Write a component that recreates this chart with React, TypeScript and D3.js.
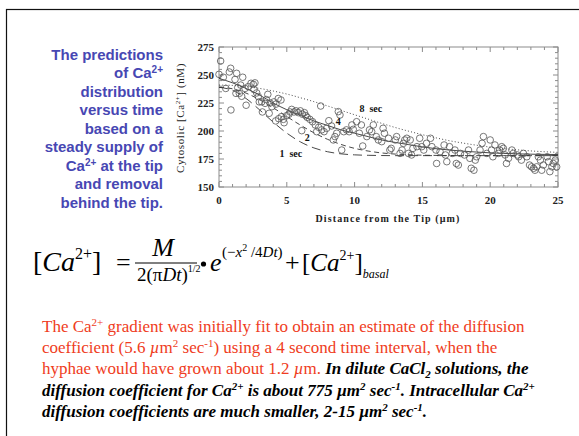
import React from "react";
import * as d3 from "d3";

// Measured cytosolic Ca2+ along the hypha (distance in µm, concentration in nM)
const distance = [
  0.12, 0, 0.32, 0.5, 0.76, 0.86, 0.88, 1.18, 1.25, 1.38, 1.5, 1.67, 1.3, 1.75, 1.6, 1.92, 2.0, 2.16,
  2.36, 2.53, 2.65, 2.58, 2.78, 2.9, 2.97, 3.15, 3.2, 3.4, 3.5, 3.6, 3.76, 3.7, 3.9, 4.05, 4.2, 4.37,
  4.57, 4.18, 4.4, 4.6, 4.75, 4.8, 4.99, 5.16, 5.24, 5.36, 5.53, 5.68, 5.85, 6.0, 6.15, 6.3, 6.1, 6.4,
  6.5, 6.7, 6.9, 7.1, 7.2, 7.35, 7.57, 7.75, 7.5, 7.94, 8.1, 8.3, 8.43, 8.55, 8.68, 8.92, 8.8, 9.05,
  9.2, 9.4, 9.6, 9.8, 9.9, 10.15, 10.35, 10.5, 10.6, 10.9, 11.1,
  11.38, 11.26, 11.6, 11.75, 12.1, 12.0, 12.2, 12.5, 12.6, 12.7, 13.0, 13.1, 13.35, 13.5, 13.6, 13.7,
  13.85, 14.1, 14.2, 13.97, 14.3, 14.6, 14.8, 14.95, 15.1, 15.3, 15.6, 15.7, 16.0, 16.05, 16.3, 16.6,
  16.7, 16.8, 17.0, 17.2, 17.4, 17.5, 17.65, 17.8, 18.1, 18.4, 18.5, 18.6, 18.8, 18.9, 19.0, 19.25,
  19.4, 19.5, 19.75, 20.0, 20.1, 20.2, 20.35, 20.6, 20.7, 20.85, 20.97, 21.1, 21.2, 21.35, 21.6, 21.7,
  22.0, 22.1, 22.3, 22.45, 22.7, 22.9, 23.05, 23.2, 23.3, 23.43, 23.55, 23.7, 23.8, 23.92, 24.2, 24.3,
  24.4, 24.55, 24.65, 24.8, 24.9,
];
const calcium = [
  262.5, 250.6, 248, 238, 252.7, 256, 218.8, 246, 233.6, 238.7, 233.6, 231, 251.5, 248, 241, 238, 223,
  239.6, 242.6, 241.7, 243, 237, 234, 230.7, 226, 226, 217, 224.7, 228, 232.7, 225, 215.8, 221.7, 226,
  224, 229, 227.7, 209, 211, 212.8, 210.4, 207.4, 213.7, 215, 217, 219.3, 217, 218, 216.4, 218, 215,
  216.4, 200.3, 213.7, 212.2, 210.4, 208.3, 205.4, 199.4, 203.3, 201, 199.4, 222.3, 202.4, 209.2,
  204.5, 192, 195, 198, 214.3, 217.3, 183, 199.4, 201, 199.4, 205.4, 201.5, 208.3, 198, 205.4, 186.6,
  195, 201,
  205.4, 199.4, 195, 192, 202.4, 190.5, 198, 193.5, 183, 184.5, 192, 195, 180, 183, 189, 192, 193.5,
  192, 178.6, 180, 184.5, 186, 193.5, 186, 183, 189, 193.5, 186, 183, 171, 181.6, 187.5, 178.6, 172.6,
  186, 180, 183, 171, 169.6, 180, 178.6, 183, 175.6, 166.7, 165, 174, 177, 183, 189, 195, 180, 192, 183,
  177, 187.5, 180, 183, 186, 184.5, 178.6, 171, 175.6, 183, 180, 178.6, 177, 174, 180, 177, 169.6, 168,
  166.7, 165, 168, 177, 174, 165, 169.6, 177, 172.6, 163.7, 168, 171, 174, 168,
];

// Model profiles after 1, 2, 4 and 8 s, sampled every micrometre
const profileX = [0, 1, 2, 3, 4, 5, 6, 7, 8, 9, 10, 11, 12, 13, 14, 15, 16, 17, 18, 19, 20, 21, 22, 23, 24, 25];
const profile1s = [239, 236.3, 229, 218.8, 207.9, 198.1, 190.3, 184.9, 181.5, 179.6, 178.7, 178.3, 178.1, 178, 178, 178, 178, 178, 178, 178, 178, 178, 178, 178, 178, 178];
const profile2s = [239, 237.7, 233.8, 227.9, 220.7, 212.9, 205.3, 198.4, 192.6, 188, 184.5, 182.1, 180.4, 179.4, 178.8, 178.4, 178.2, 178, 178, 178, 178, 178, 178, 178, 178, 178];
const profile4s = [247, 243, 238, 232, 225, 219, 214, 209, 205, 201, 198, 195, 192, 189.8, 187.8, 185.8, 184.2, 183, 182, 181.2, 180.5, 180, 179.6, 179.3, 179.1, 179];
const profile8s = [241, 240.7, 239.6, 238, 235.7, 233, 229.7, 226.2, 222.4, 218.4, 214.5, 210.6, 206.8, 203.1, 199.8, 196.7, 193.9, 191.3, 189.2, 187.3, 185.6, 184.3, 183.2, 182.2, 181.5, 180.9];

const xTickLabels = [0, 5, 10, 15, 20, 25];
const yTickLabels = [150, 175, 200, 225, 250, 275];

const profiles = [
  { values: profile1s, dash: "9,5", label: "1 sec", lx: 5.3, ly: 177 },
  { values: profile2s, dash: "5,3.5", label: "2", lx: 6.5, ly: 191 },
  { values: profile4s, dash: "", label: "4", lx: 8.8, ly: 205.5 },
  { values: profile8s, dash: "1,2.2", label: "8 sec", lx: 11.2, ly: 217 },
];

const BLUE = "#4747b3";
const RED = "#ef3c22";
const SERIF = "'Liberation Serif', 'Times New Roman', serif";
const SANS = "'Liberation Sans', Arial, Helvetica, sans-serif";

function Sup({ children, size, up }: { children: React.ReactNode; size: number; up: number }) {
  return (
    <tspan fontSize={size} dy={-up}>
      {children}
    </tspan>
  );
}

export default function App() {
  const x = d3.scaleLinear().domain([0, 25]).range([219, 558]);
  const y = d3.scaleLinear().domain([150, 275]).range([187, 47]);
  const [x0, x1] = x.range();
  const [y0, y1] = y.range();

  const line = (vals: number[]) =>
    d3
      .line<number>()
      .x((_, i) => x(profileX[i]))
      .y((d) => y(d))
      .curve(d3.curveMonotoneX)(vals) || "";

  const xMinor = x.ticks(25);
  const yMinor = d3.range(150, 276, 5);
  const frame = "#8c8c8c";

  const blueLines: React.ReactNode[] = [
    "The predictions",
    <>of Ca<Sup size={10} up={5}>2+</Sup></>,
    "distribution",
    "versus time",
    "based on a",
    "steady supply of",
    <>Ca<Sup size={10} up={5}>2+</Sup><tspan dy={5}> at the tip</tspan></>,
    "and removal",
    "behind the tip.",
  ];

  return (
    <svg
      width={579}
      height={436}
      style={{ position: "absolute", left: 0, top: 0, background: "#fff" }}
    >
      <rect x={0} y={0} width={579} height={436} fill="#fff" />
      <rect x={6.5} y={9.5} width={620} height={500} fill="none" stroke="#111" strokeWidth={1.2} />

      {/* side caption */}
      <g fontFamily={SANS} fontWeight="bold" fontSize={15} fill={BLUE} textAnchor="end">
        {blueLines.map((l, i) => (
          <text key={i} x={163} y={59.5 + i * 18.5}>
            {l}
          </text>
        ))}
      </g>

      {/* plot frame and ticks */}
      <g stroke={frame} strokeWidth={1} fill="none">
        <rect x={x0} y={y1} width={x1 - x0} height={y0 - y1} />
        {xMinor.map((t) => {
          const len = t % 5 === 0 ? 5 : 3;
          return (
            <g key={"xt" + t}>
              <line x1={x(t)} x2={x(t)} y1={y0} y2={y0 - len} />
              <line x1={x(t)} x2={x(t)} y1={y1} y2={y1 + len} />
            </g>
          );
        })}
        {yMinor.map((t) => {
          const len = t % 25 === 0 ? 5 : 3;
          return (
            <g key={"yt" + t}>
              <line x1={x0} x2={x0 + len} y1={y(t)} y2={y(t)} />
              <line x1={x1} x2={x1 - len} y1={y(t)} y2={y(t)} />
            </g>
          );
        })}
      </g>

      <g fontFamily={SERIF} fontSize={11} fontWeight="bold" fill="#222">
        {xTickLabels.map((t) => (
          <text key={"xl" + t} x={x(t)} y={204} textAnchor="middle">
            {t}
          </text>
        ))}
        {yTickLabels.map((t) => (
          <text key={"yl" + t} x={214} y={y(t) + 4} textAnchor="end">
            {t}
          </text>
        ))}
      </g>

      <text
        x={388}
        y={222}
        textAnchor="middle"
        fontFamily={SERIF}
        fontSize={10}
        fontWeight="bold"
        letterSpacing={1.1}
        fill="#222"
      >
        Distance from the Tip (µm)
      </text>
      <text
        transform="translate(184,118) rotate(-90)"
        textAnchor="middle"
        fontFamily={SERIF}
        fontSize={11}
        letterSpacing={0.6}
        fill="#222"
      >
        Cytosolic [Ca<tspan fontSize={7} dy={-4}>2+</tspan><tspan dy={4}>] (nM)</tspan>
      </text>

      {/* model profiles */}
      <defs>
        <clipPath id="plotArea">
          <rect x={x0} y={y1} width={x1 - x0} height={y0 - y1} />
        </clipPath>
      </defs>
      <g clipPath="url(#plotArea)" fill="none" stroke="#333" strokeWidth={0.9}>
        {profiles.map((p) => (
          <path key={p.label} d={line(p.values)} strokeDasharray={p.dash || undefined} />
        ))}
      </g>

      {/* measurements */}
      <g fill="none" stroke="#555" strokeWidth={0.8}>
        {distance.map((d, i) => (
          <circle key={i} cx={x(d)} cy={y(calcium[i])} r={3.3} />
        ))}
      </g>

      <g fontFamily={SERIF} fontWeight="bold" fontSize={10} fill="#111">
        {profiles.map((p) => (
          <text key={"lab" + p.label} x={x(p.lx)} y={y(p.ly)} textAnchor="middle">
            {p.label.includes("sec") ? p.label.replace(" ", "\u2002") : p.label}
          </text>
        ))}
      </g>

      {/* diffusion equation */}
      <g fontFamily={SERIF} fill="#000">
        <text x={33} y={271} fontSize={28}>
          [<tspan fontStyle="italic">Ca</tspan>
          <tspan fontSize={16} dy={-12}>2+</tspan>
          <tspan dy={12}>]</tspan>
        </text>
        <text x={116} y={271} fontSize={26}>=</text>
        <text x={163} y={256} fontSize={26} textAnchor="middle" fontStyle="italic">M</text>
        <line x1={135} x2={197} y1={263} y2={263} stroke="#000" strokeWidth={1.1} />
        <text x={137} y={281} fontSize={19}>
          2(π<tspan fontStyle="italic">Dt</tspan>)
          <tspan fontSize={10} dy={-9}>1/2</tspan>
        </text>
        <circle cx={203.5} cy={264} r={2.6} fill="#000" />
        <text x={210} y={271} fontSize={26} fontStyle="italic">e</text>
        <text x={222} y={257} fontSize={15}>
          (−<tspan fontStyle="italic">x</tspan>
          <tspan fontSize={10} dy={-6}>2</tspan>
          <tspan dy={6}> /4</tspan>
          <tspan fontStyle="italic">Dt</tspan>)
        </text>
        <text x={285} y={271} fontSize={26}>+</text>
        <text x={302} y={271} fontSize={25}>
          [<tspan fontStyle="italic">Ca</tspan>
          <tspan fontSize={14} dy={-11}>2+</tspan>
          <tspan dy={11}>]</tspan>
          <tspan fontSize={12} fontStyle="italic" dy={7}>basal</tspan>
        </text>
      </g>

      {/* explanatory paragraph */}
      <g fontFamily={SERIF} fontSize={17}>
        <text x={42} y={332} fill={RED}>
          The Ca<tspan fontSize={11} dy={-6}>2+</tspan>
          <tspan dy={6}> gradient was initially fit to obtain an estimate of the diffusion</tspan>
        </text>
        <text x={42} y={353.2} fill={RED}>
          coefficient (5.6 <tspan fontStyle="italic">µ</tspan>m<tspan fontSize={11} dy={-6}>2</tspan>
          <tspan dy={6}> sec</tspan>
          <tspan fontSize={11} dy={-6}>-1</tspan>
          <tspan dy={6}>) using a 4 second time interval, when the</tspan>
        </text>
        <text x={42} y={374.4}>
          <tspan fill={RED}>hyphae would have grown about 1.2 </tspan>
          <tspan fill={RED} fontStyle="italic">µ</tspan>
          <tspan fill={RED}>m. </tspan>
          <tspan fontWeight="bold" fontStyle="italic" fill="#000">In dilute CaCl</tspan>
          <tspan fontWeight="bold" fontStyle="italic" fill="#000" fontSize={11} dy={4}>2</tspan>
          <tspan fontWeight="bold" fontStyle="italic" fill="#000" dy={-4}> solutions, the</tspan>
        </text>
        <text x={42} y={395.6} fontWeight="bold" fontStyle="italic" fill="#000">
          diffusion coefficient for Ca<tspan fontSize={11} dy={-6}>2+</tspan>
          <tspan dy={6}> is about 775 µm</tspan>
          <tspan fontSize={11} dy={-6}>2</tspan>
          <tspan dy={6}> sec</tspan>
          <tspan fontSize={11} dy={-6}>-1</tspan>
          <tspan dy={6}>. Intracellular Ca</tspan>
          <tspan fontSize={11} dy={-6}>2+</tspan>
        </text>
        <text x={42} y={416.8} fontWeight="bold" fontStyle="italic" fill="#000">
          diffusion coefficients are much smaller, 2-15 µm<tspan fontSize={11} dy={-6}>2</tspan>
          <tspan dy={6}> sec</tspan>
          <tspan fontSize={11} dy={-6}>-1</tspan>
          <tspan dy={6}>.</tspan>
        </text>
      </g>
    </svg>
  );
}
